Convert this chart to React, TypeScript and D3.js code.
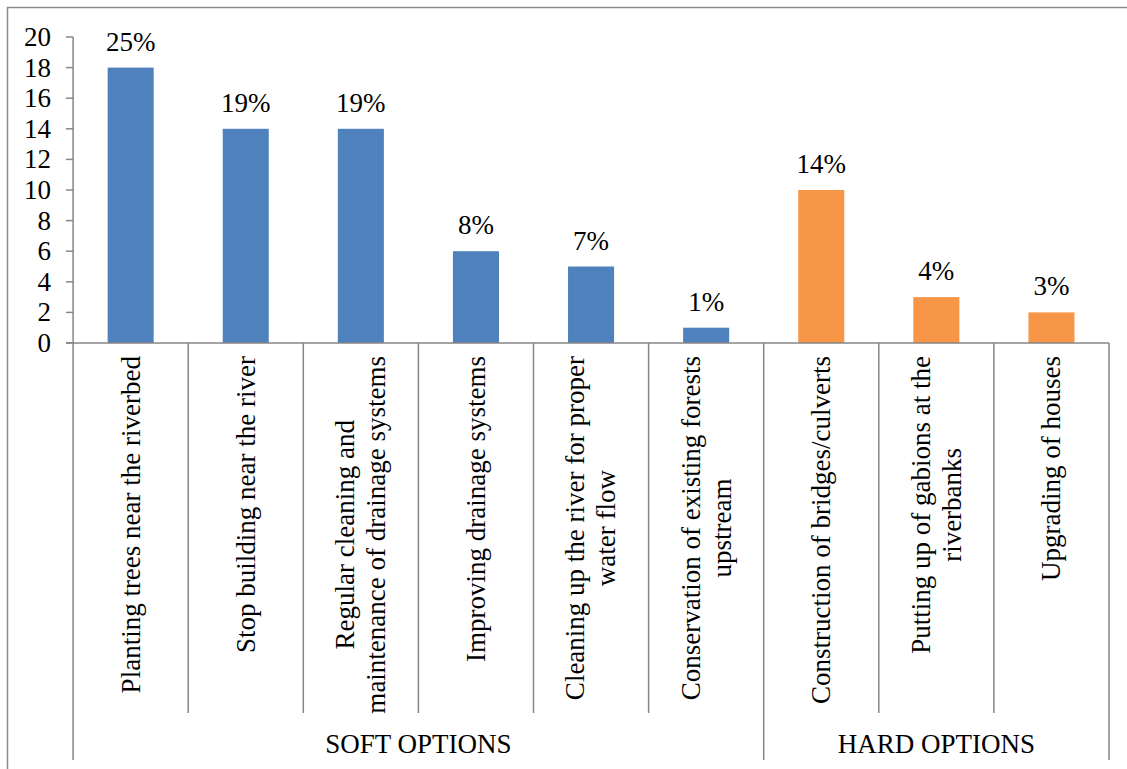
import React, { useEffect, useRef } from "react";
import * as d3 from "d3";

const categories: string[][] = [
  ["Planting trees near the riverbed"],
  ["Stop building near the river"],
  ["Regular cleaning and", "maintenance of drainage systems"],
  ["Improving drainage systems"],
  ["Cleaning up the river for proper", "water flow"],
  ["Conservation of existing forests", "upstream"],
  ["Construction of bridges/culverts"],
  ["Putting up of gabions at the", "riverbanks"],
  ["Upgrading of houses"],
];
const values: number[] = [18, 14, 14, 6, 5, 1, 10, 3, 2];
const percents: string[] = ["25%", "19%", "19%", "8%", "7%", "1%", "14%", "4%", "3%"];
const groups: string[] = ["soft", "soft", "soft", "soft", "soft", "soft", "hard", "hard", "hard"];
const groupLabels: { key: string; label: string }[] = [
  { key: "soft", label: "SOFT OPTIONS" },
  { key: "hard", label: "HARD OPTIONS" },
];
const yTicks: number[] = [0, 2, 4, 6, 8, 10, 12, 14, 16, 18, 20];

const W = 1127;
const H = 769;
const FONT = '"Liberation Serif", "Times New Roman", Times, serif';
const FS = 27;
const AXIS = "#868686";
const COLORS: Record<string, string> = { soft: "#4F81BD", hard: "#F79646" };

export default function App() {
  const ref = useRef<SVGSVGElement | null>(null);

  useEffect(() => {
    const svg = d3.select(ref.current);
    svg.selectAll("*").remove();

    const left = 73.1;
    const right = 1109;
    const top = 37;
    const bottom = 343;

    const x = d3
      .scaleBand<number>()
      .domain(values.map((_, i) => i))
      .range([left, right])
      .paddingInner(0)
      .paddingOuter(0);
    const y = d3.scaleLinear().domain([0, 20]).range([bottom, top]);
    const bw = x.bandwidth();
    const barW = bw * 0.4;

    svg
      .append("path")
      .attr("d", `M7.5,${H + 2}V7.5H${W + 2}`)
      .attr("fill", "none")
      .attr("stroke", "#8c8c8c")
      .attr("stroke-width", 1.5);

    svg
      .append("g")
      .selectAll("rect")
      .data(values)
      .join("rect")
      .attr("x", (_, i) => (x(i) as number) + (bw - barW) / 2)
      .attr("y", (d) => y(d))
      .attr("width", barW)
      .attr("height", (d) => bottom - y(d))
      .attr("fill", (_, i) => COLORS[groups[i]]);

    svg
      .append("g")
      .selectAll("text")
      .data(values)
      .join("text")
      .attr("x", (_, i) => (x(i) as number) + bw / 2)
      .attr("y", (d) => y(d) - 17)
      .attr("text-anchor", "middle")
      .style("font-family", FONT)
      .style("font-size", FS + "px")
      .attr("fill", "#000")
      .text((_, i) => percents[i]);

    const ya = svg.append("g").attr("stroke", AXIS).attr("stroke-width", 1.5);
    ya.append("line").attr("x1", left).attr("x2", left).attr("y1", top).attr("y2", 760);
    ya.selectAll("line.tick")
      .data(yTicks)
      .join("line")
      .attr("class", "tick")
      .attr("x1", 66)
      .attr("x2", left)
      .attr("y1", (d) => y(d))
      .attr("y2", (d) => y(d));
    svg
      .append("g")
      .selectAll("text")
      .data(yTicks)
      .join("text")
      .attr("x", 51)
      .attr("y", (d) => y(d))
      .attr("dy", "0.33em")
      .attr("text-anchor", "end")
      .style("font-family", FONT)
      .style("font-size", FS + "px")
      .attr("fill", "#000")
      .text((d) => String(d));

    const xa = svg.append("g").attr("stroke", AXIS).attr("stroke-width", 1.5);
    xa.append("line").attr("x1", 66).attr("x2", right).attr("y1", bottom).attr("y2", bottom);
    const seps = d3.range(1, values.length + 1);
    xa.selectAll("line.sep")
      .data(seps)
      .join("line")
      .attr("class", "sep")
      .attr("x1", (i) => (i < values.length ? (x(i) as number) : right))
      .attr("x2", (i) => (i < values.length ? (x(i) as number) : right))
      .attr("y1", bottom)
      .attr("y2", (i) => (i === values.length || groups[i] !== groups[i - 1] ? 760 : 713));

    const labelTop = 356;
    const lineH = 31;
    const lg = svg.append("g");
    categories.forEach((lines, i) => {
      const cx = (x(i) as number) + bw / 2;
      const g = lg.append("g");
      const texts = lines.map((ln) =>
        g
          .append("text")
          .style("font-family", FONT)
          .style("font-size", FS + "px")
          .attr("fill", "#000")
          .attr("text-anchor", "middle")
          .text(ln)
      );
      const widths = texts.map((t) => (t.node() as SVGTextElement).getComputedTextLength());
      const maxW = Math.max(...widths);
      const cy = labelTop + maxW / 2;
      const n = lines.length;
      texts.forEach((t, k) => {
        const off = (k - (n - 1) / 2) * lineH;
        t.attr("transform", `translate(${cx + off},${cy}) rotate(-90)`).attr("dy", "0.33em");
      });
    });

    groupLabels.forEach((gl) => {
      const idx = groups.map((g, i) => (g === gl.key ? i : -1)).filter((i) => i >= 0);
      const x0 = x(idx[0]) as number;
      const x1 = (x(idx[idx.length - 1]) as number) + bw;
      svg
        .append("text")
        .attr("x", (x0 + x1) / 2)
        .attr("y", 753)
        .attr("text-anchor", "middle")
        .style("font-family", FONT)
        .style("font-size", FS + "px")
        .attr("fill", "#000")
        .text(gl.label);
    });
  }, []);

  return (
    <svg
      ref={ref}
      width={W}
      height={H}
      style={{ position: "absolute", left: 0, top: 0, display: "block", background: "#fff" }}
    />
  );
}
